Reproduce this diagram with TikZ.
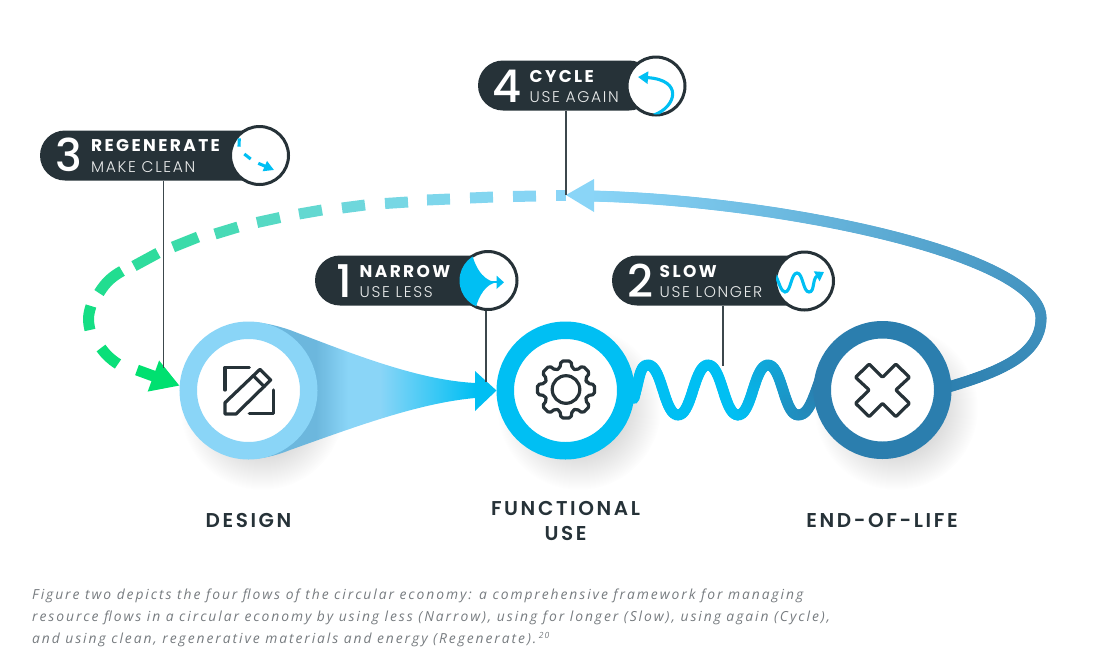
\documentclass[tikz,border=0pt]{standalone}
\usepackage{fontspec}
\setmainfont{Poppins}
\newfontfamily\numfont{Poppins Medium}
\newfontfamily\headfont{Poppins}[LetterSpace=14]
\newfontfamily\subfont{Poppins Light}[LetterSpace=10.5]
\newfontfamily\stagefont{Poppins SemiBold}[LetterSpace=13]
\newfontfamily\capfont{Open Sans}[LetterSpace=14]
\usepackage{xcolor}
\definecolor{inkdark}{RGB}{38,50,56}
\definecolor{flowsky}{RGB}{138,213,247}
\definecolor{flowcyan}{RGB}{0,191,243}
\definecolor{flowdeep}{RGB}{43,126,174}
\definecolor{flowgreen}{RGB}{0,224,112}
\definecolor{conedark}{RGB}{108,183,221}
\definecolor{capgray}{RGB}{118,123,127}
\usetikzlibrary{arrows.meta,positioning,shapes.misc,decorations.markings,fadings}
\tikzfading[name=softspot, inner color=transparent!68, outer color=transparent!100]
\pgfdeclarehorizontalshading{conefade}{100bp}{color(0bp)=(conedark); color(40bp)=(conedark);
  color(47bp)=(flowsky); color(54bp)=(flowsky); color(75bp)=(flowcyan); color(100bp)=(flowcyan)}

\begin{document}
\begin{tikzpicture}[
    x=1pt, y=-1pt,
    stagenode/.style={circle, fill=white, line width=17.5pt, minimum size=120.5pt, inner sep=0pt},
    stagelbl/.style={font=\stagefont\fontsize{20}{25}\selectfont, inkdark, align=center},
    pill/.style={rounded rectangle, fill=inkdark, minimum height=50pt, inner sep=0pt},
    badgering/.style={circle, fill=white, draw=inkdark, line width=3pt, minimum size=58pt, inner sep=0pt},
    numlbl/.style={font=\numfont\fontsize{45}{45}\selectfont, white, inner sep=0pt},
    headlbl/.style={anchor=west, font=\headfont\bfseries\fontsize{17}{17}\selectfont, white, inner sep=0pt},
    sublbl/.style={anchor=west, font=\subfont\fontsize{15.5}{16}\selectfont, white!90!inkdark, inner sep=0pt},
    leader/.style={draw=inkdark!90, line width=1.7pt},
    iconline/.style={draw=inkdark, line width=3.2pt, line join=round, line cap=round},
    miniline/.style={draw=flowcyan, line width=3.1pt},
    dashbit/.style={line width=11pt},
    softshadow/.style={fill=black, path fading=softspot},
    gradline/.style n args={3}{postaction={decorate, decoration={markings,
        mark=between positions 0 and 1 step 1.5pt with {
          \pgfmathsetmacro\flowmix{min(100,\pgfkeysvalueof{/pgf/decoration/mark info/distance from start}/\pgfdecoratedpathlength*100)}
          \draw[line width=#3, line cap=round, draw=#2!\flowmix!#1] (-0.5pt,0) -- (0.5pt,0);
        }}}}
  ]
    \useasboundingbox (0,0) rectangle (1108,670);

    % soft shadows
    \fill[softshadow] (262,408) circle (82);
    \fill[softshadow] (579,408) circle (82);
    \fill[softshadow] (896,408) circle (82);

    % narrow cone
    \shade[shading=conefade]
      (248,322) .. controls (262,322) and (275,325) .. (290,330)
      .. controls (360,357) and (420,380) .. (475,383) -- (475,398)
      .. controls (420,403) and (360,425) .. (290,450)
      .. controls (275,456) and (262,459) .. (248,459) -- cycle;

    % slow wave
    \path[gradline={flowcyan}{flowcyan}{11pt}]
      (634,398) .. controls (640,376) and (640,365) .. (648,365)
      .. controls (662,365) and (664,415) .. (678,415) .. controls (692,415) and (694,365) .. (708,365)
      .. controls (722,365) and (724,415) .. (738,415);
    \path[gradline={flowcyan}{flowdeep}{11pt}]
      (738,415) .. controls (752,415) and (754,365) .. (768,365) .. controls (782,365) and (784,415) .. (798,415)
      .. controls (808,415) and (812,402) .. (820,380);

    % cycle return
    \coordinate (cycletip) at (566,195);
    \path[gradline={flowdeep}{flowsky}{11pt}]
      (945,388) .. controls (1000,372) and (1041,355) .. (1041,318)
      .. controls (1041,255) and (780,200) .. (590,196);
    \fill[flowsky] (594,179) -- (cycletip) -- (594,212) -- cycle;

    % stages
    \node[stagenode, draw=flowsky]  (design) at (248.5,390.5) {};
    \node[stagenode, draw=flowcyan] (use)    at (565.5,390.5) {};
    \node[stagenode, draw=flowdeep] (eol)    at (882.5,390) {};
    \fill[flowcyan] (475,371) -- (use.west) -- (475,411) -- cycle;

    % regenerate dashes
    \foreach \ax/\ay/\bx/\by/\mix/\curve in {
        566/195.5/556/195.5/0/0, 536/196/513/196.5/2/0, 493/197/470/198/5/0,
        450/199/427/200/9/0, 408/202/385/203.5/14/0, 365/205/342/208/20/0,
        322/210/299/214/28/0, 280/217.5/257/222.5/38/0, 238/227/215/234/48/0,
        198/237/173/247/58/0, 158/253/134/266/67/0, 122/271/99/293/76/14,
        91/306/90/330/85/16, 101/348/118/364/93/10} {
      \draw[dashbit, draw=flowgreen!\mix!flowsky] (\ax,\ay) to[bend right=\curve] (\bx,\by);
    }
    \coordinate (regenstart) at (137,370);
    \draw[dashbit, flowgreen, -{Triangle[length=28pt,width=31pt]}] (regenstart) -- (design.176);

    % leaders
    \coordinate (regenend) at (163.5,368);
    \coordinate (narrowend) at (486,382);
    \coordinate (slowend) at (723,366);

    % pills
    \node[pill, minimum width=247pt] (regenpill)  at (163.5,155.5) {};
    \node[pill, minimum width=176pt] (cyclepill)  at (566,85.5) {};
    \node[pill, minimum width=192pt] (narrowpill) at (411,280.5) {};
    \node[pill, minimum width=222pt] (slowpill)   at (723,280.5) {};
    \draw[leader] (regenpill.south) -- (regenend);
    \draw[leader] (cyclepill.south) -- (cycletip);
    \draw[leader] (slowpill.south) -- (slowend);

    % badge rings
    \node[badgering] (regenicon)  at (259.5,155.5) {};
    \node[badgering] (cycleicon)  at (656,86) {};
    \node[badgering] (narrowicon) at (488,280.5) {};
    \node[badgering] (slowicon)   at (804.5,281) {};
    \draw[leader] (narrowicon.south -| narrowend) -- (narrowend);

    % badge texts
    \node[numlbl] (regennum)  at (69,155) {3};
    \node[numlbl] (cyclenum)  at (507.5,86) {4};
    \node[numlbl] (narrownum) at (344,281) {1};
    \node[numlbl] (slownum)   at (640.5,281) {2};
    \node[headlbl] (regenhead)  at (91,146) {REGENERATE};
    \node[sublbl]  (regensub)   at (91,167) {MAKE CLEAN};
    \node[headlbl] (cyclehead)  at (529.5,77) {CYCLE};
    \node[sublbl]  (cyclesub)   at (529.5,97) {USE AGAIN};
    \node[headlbl] (narrowhead) at (359.5,272) {NARROW};
    \node[sublbl]  (narrowsub)  at (359.5,292) {USE LESS};
    \node[headlbl] (slowhead)   at (659.5,272) {SLOW};
    \node[sublbl]  (slowsub)    at (659.5,292) {USE LONGER};

    % mini icon regenerate
    \draw[miniline] (239.3,138.3) -- (239,146.7);
    \draw[miniline] (244.3,154) -- (250.7,159);
    \draw[miniline, -{Triangle[length=10pt,width=10.5pt]}] (258.3,163.3) -- (274,170);

    % mini icon cycle
    \begin{scope}
      \clip (656,86) circle (28.5);
      \draw[miniline, -{Triangle[length=10pt,width=12pt]}]
        (654,115) .. controls (676,107) and (684,80) .. (638,77);
    \end{scope}

    % mini icon narrow
    \begin{scope}
      \clip (488,280.5) circle (28.5);
      \fill[flowcyan] (450,250) -- (471,250) .. controls (476,273) and (486.7,281.7) .. (497,282.3)
        .. controls (486.7,283.3) and (478.3,295) .. (475,311) -- (450,311) -- cycle;
    \end{scope}
    \draw[miniline, line width=2pt, -{Triangle[length=7.5pt,width=13pt]}] (492,282.3) -- (504,282.3);

    % mini icon slow
    \begin{scope}
      \clip (804.5,281) circle (28.5);
      \draw[miniline, -{Triangle[length=8.5pt,width=11pt]}]
        (775,274) .. controls (779,282) and (781,292) .. (785,292) .. controls (791,292) and (791,273) .. (797,273)
        .. controls (803,273) and (803,292) .. (809,292) .. controls (815,292) and (812,279) .. (824,272);
    \end{scope}

    % pencil icon
    \begin{scope}[shift={(design)}]
      \draw[iconline] (0.8,-23.2) -- (-23.5,-23.2) -- (-23.5,-0.5);
      \draw[iconline] (24.8,-0.5) -- (24.8,22.8) -- (0.8,22.8);
      \draw[iconline] (11.5,-21.2) -- (22.2,-10.5) -- (-12.5,23.5) -- (-23.5,23.5) -- (-23.5,12.2) -- cycle;
      \draw[iconline] (4.8,-14.8) -- (15.8,-3.8);
    \end{scope}

    % gear icon
    \begin{scope}[shift={(566,389.5)}]
      \draw[iconline, rounded corners=2pt] (-16:22)
        \foreach \a in {0,45,...,315} { -- ({\a-16}:22) -- ({\a-10}:29) -- ({\a+10}:29) -- ({\a+16}:22) } -- cycle;
      \draw[iconline] (0,0) circle (13.8);
    \end{scope}

    % cross icon
    \begin{scope}[shift={(eol)}]
      \draw[iconline, rounded corners=1pt] (-13.3,-26) -- (0,-12.7) -- (13.3,-26) -- (27,-12.7) -- (13.3,0) -- (27,13.3)
        -- (13.3,26.7) -- (0,13.3) -- (-13.3,26.7) -- (-27,13.3) -- (-13.3,0) -- (-27,-12.7) -- cycle;
    \end{scope}

    % stage labels
    \node[stagelbl] (designlbl) at (248.5,520) {DESIGN};
    \node[stagelbl] (uselbl)    at (565.5,520.5) {FUNCTIONAL\\USE};
    \node[stagelbl] (eollbl)    at (882,520) {END-OF-LIFE};

    % caption
    \node[anchor=north west, inner sep=0pt, align=left, capgray, font=\capfont\itshape\fontsize{13.85}{22}\selectfont] (caption) at (32,589)
      {Figure two depicts the four flows of the circular economy: a comprehensive framework for managing\\
       resource flows in a circular economy by using less (Narrow), using for longer (Slow), using again (Cycle),\\
       and using clean, regenerative materials and energy (Regenerate).\,\raisebox{5pt}{\fontsize{8.5}{9}\selectfont 20}};
\end{tikzpicture}
\end{document}
